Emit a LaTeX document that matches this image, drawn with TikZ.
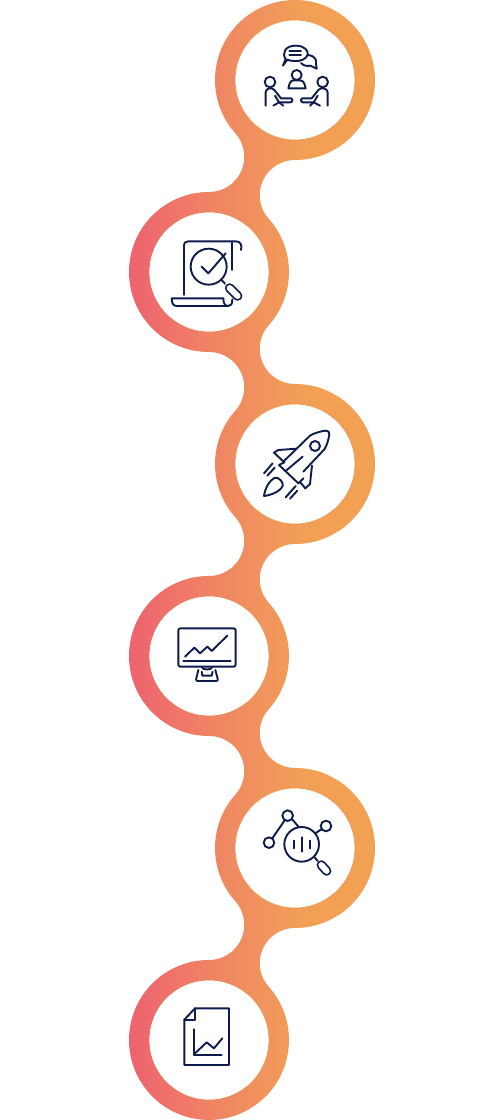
\documentclass[tikz,border=0pt]{standalone}
\definecolor{navy}{HTML}{0E1B4D}
\definecolor{gA}{HTML}{EE5E70}
\definecolor{gB}{HTML}{EF8464}
\definecolor{gC}{HTML}{F1A056}
\definecolor{gD}{HTML}{F2A152}
\definecolor{rimL}{HTML}{EF6A55}
\definecolor{rimN}{HTML}{EF7A4C}
\definecolor{rimM}{HTML}{F09045}
\pgfdeclarehorizontalshading{ribbon}{100bp}{
 color(0bp)=(gA); color(25bp)=(gA); color(42.5bp)=(gB); color(60bp)=(gC); color(75bp)=(gD); color(100bp)=(gD)}
\tikzset{
 ico/.style={draw=navy,line width=1.9pt,line cap=round,line join=round,fill=none},
 capo/.style={draw=navy,line width=9.5pt,line cap=round},
 capi/.style={draw=white,line width=5.9pt,line cap=round},
 disc/.style={circle,fill=white,minimum size=120pt,inner sep=0pt,outer sep=0pt},
 discR/.style={disc,draw=rimM,line width=0.6pt},
 rimArc/.style={line width=0.6pt},
 zoomed/.style={x=0.33333pt,y=-0.33333pt},
}
\newcommand{\leftrim}[1]{%
 \draw[rimArc,rimL] ([shift={(120:60)}]#1) arc[start angle=120,end angle=240,radius=60];
 \draw[rimArc,rimN] ([shift={(60:60)}]#1) arc[start angle=60,end angle=120,radius=60];
 \draw[rimArc,rimN] ([shift={(240:60)}]#1) arc[start angle=240,end angle=300,radius=60];
 \draw[rimArc,rimM] ([shift={(-60:60)}]#1) arc[start angle=-60,end angle=60,radius=60];
}
\begin{document}
\begin{tikzpicture}[x=1pt,y=1pt]
\useasboundingbox (0,0) rectangle (500,-1120);
\def\R{80}\def\r{35.26}
\path[shading=ribbon]
 ([shift={(221.74:\R)}]295,-80) arc[start angle=221.74,end angle=-90,radius=\R]
 arc[start angle=90,end angle=221.74,radius=\r]
 arc[start angle=41.74,end angle=-41.74,radius=\R]
 arc[start angle=138.26,end angle=270,radius=\r]
 arc[start angle=90,end angle=-90,radius=\R]
 arc[start angle=90,end angle=221.74,radius=\r]
 arc[start angle=41.74,end angle=-41.74,radius=\R]
 arc[start angle=138.26,end angle=270,radius=\r]
 arc[start angle=90,end angle=-90,radius=\R]
 arc[start angle=90,end angle=221.74,radius=\r]
 arc[start angle=41.74,end angle=-270,radius=\R]
 arc[start angle=270,end angle=401.74,radius=\r]
 arc[start angle=221.74,end angle=138.26,radius=\R]
 arc[start angle=-41.74,end angle=90,radius=\r]
 arc[start angle=270,end angle=90,radius=\R]
 arc[start angle=270,end angle=401.74,radius=\r]
 arc[start angle=221.74,end angle=138.26,radius=\R]
 arc[start angle=-41.74,end angle=90,radius=\r]
 arc[start angle=270,end angle=90,radius=\R]
 arc[start angle=270,end angle=401.74,radius=\r]
 -- cycle;
\node[discR] (c1) at (295,-80) {};
\node[disc] (c2) at (209,-272) {};
\node[discR] (c3) at (295,-464) {};
\node[disc] (c4) at (209,-656) {};
\node[discR] (c5) at (295,-848) {};
\node[disc] (c6) at (209,-1040) {};
\leftrim{c2.center}
\leftrim{c4.center}
\leftrim{c6.center}
% icon 1: meeting (zoom origin 255,35)
\begin{scope}[zoomed,shift={(765,105)}]
 \draw[ico] (92,72) .. controls (80,55) and (90,32) .. (122,32) .. controls (150,32) and (160,48) .. (158,58) .. controls (156,72) and (135,80) .. (118,78) .. controls (108,78) and (100,76) .. (97,74) -- (84,92) -- (92,72);
 \draw[ico] (103,47) -- (138,47) (103,60) -- (138,60);
 \draw[ico] (160,60) .. controls (176,62) and (186,72) .. (183,85) -- (185,101) -- (166,92) .. controls (155,94) and (145,92) .. (138,84);
 \draw[ico] (125,120) circle[radius=15];
 \draw[ico] (100,160) -- (104,145) .. controls (106,138) and (112,136) .. (118,136) -- (134,136) .. controls (142,136) and (146,140) .. (148,146) -- (152,160) -- (100,160);
 \draw[ico] (45,141) circle[radius=16];
 \draw[ico] (32,212) -- (32,172) .. controls (32,160) and (50,155) .. (58,165) -- (78,190) -- (107,190) .. controls (114,190) and (114,202) .. (106,202) -- (72,202) -- (60,182);
 \draw[ico] (55,212) -- (72,202) -- (85,212);
 \draw[ico] (203,141) circle[radius=16];
 \draw[ico] (218,212) -- (218,172) .. controls (218,160) and (198,155) .. (190,165) -- (170,190) -- (143,190) .. controls (136,190) and (136,202) .. (144,202) -- (176,202) -- (188,182);
 \draw[ico] (195,212) -- (176,202) -- (165,212);
\end{scope}
% icon 2: document check (zoom origin 165,230)
\begin{scope}[zoomed,shift={(495,690)}]
 \draw[ico] (57,195) -- (57,48) .. controls (57,38) and (62,34) .. (70,34) -- (212,34) .. controls (226,34) and (232,44) .. (228,60);
 \draw[ico] (200,38) -- (200,120);
 \draw[ico] (20,205) -- (175,205) (20,205) .. controls (20,222) and (26,228) .. (36,228) -- (190,228) .. controls (198,228) and (202,222) .. (202,208);
 \draw[ico] (175,205) .. controls (175,220) and (180,228) .. (190,228);
 \draw[ico] (131,110) circle[radius=54];
 \draw[ico] (110,110) -- (130,130) -- (182,70);
 \draw[ico] (169,149) -- (180,161);
 \draw[capo] (194,174) -- (218,198);
 \draw[capi] (194,174) -- (218,198);
\end{scope}
% icon 3: rocket (zoom origin 250,420)
\begin{scope}[zoomed,shift={(750,1260)}]
 \draw[ico] (100,125) -- (180,47) .. controls (195,38) and (215,33) .. (228,32) .. controls (235,32) and (238,36) .. (238,42) .. controls (236,58) and (232,72) .. (224,87) -- (160,155);
 \draw[ico] (72,98) -- (85,90) -- (140,86);
 \draw[ico] (72,98) -- (103,127) -- (87,135) -- (145,190) -- (160,175);
 \draw[ico] (108,152) -- (158,110);
 \draw[ico] (186,137) -- (180,192) -- (166,205) -- (150,186);
 \draw[ico] (195,78) circle[radius=15];
 \draw[ico] (42,228) .. controls (45,205) and (58,182) .. (73,174) .. controls (85,168) and (102,188) .. (98,198) .. controls (90,215) and (62,226) .. (42,228);
 \draw[ico] (42,160) -- (68,130) (52,167) -- (74,143);
 \draw[ico] (107,232) -- (137,198) (120,236) -- (142,212);
\end{scope}
% icon 4: monitor (zoom origin 165,615)
\begin{scope}[zoomed,shift={(495,1845)}]
 \draw[ico,rounded corners=2pt] (40,40) rectangle (212,155);
 \draw[ico] (55,137) -- (197,137);
 \draw[ico] (60,125) -- (88,98) -- (105,115) -- (127,95) -- (140,108) -- (187,62);
 \draw[ico] (110,156) .. controls (112,166) and (140,166) .. (142,156);
 \draw[ico,rounded corners=2pt] (100,165) -- (92,198) -- (160,198) -- (151,165);
 \draw[ico] (110,170) -- (112,182) -- (140,182) -- (143,170);
\end{scope}
% icon 5: analysis (zoom origin 250,800)
\begin{scope}[zoomed,shift={(750,2400)}]
 \draw[ico] (155,133) circle[radius=52];
 \draw[ico] (132,122) -- (132,145) (157,112) -- (157,155) (181,122) -- (181,145);
 \draw[ico] (113,47) circle[radius=16];
 \draw[ico] (57,128) circle[radius=16];
 \draw[ico] (228,78) circle[radius=16];
 \draw[ico] (104,61) -- (67,115) (126,57) -- (146,81) (214,88) -- (196,100);
 \draw[ico] (194,172) -- (203,183);
 \draw[capo] (214,195) -- (230,213);
 \draw[capi] (214,195) -- (230,213);
\end{scope}
% icon 6: report (zoom origin 165,995)
\begin{scope}[zoomed,shift={(495,2985)}]
 \draw[ico] (90,40) -- (192,40) -- (192,210) -- (58,210) -- (58,74) -- cycle;
 \draw[ico] (58,74) -- (90,74) -- (90,40);
 \draw[ico] (87,103) -- (87,180) -- (170,180);
 \draw[ico] (90,175) -- (125,142) -- (147,160) -- (172,130);
\end{scope}
\end{tikzpicture}
\end{document}
